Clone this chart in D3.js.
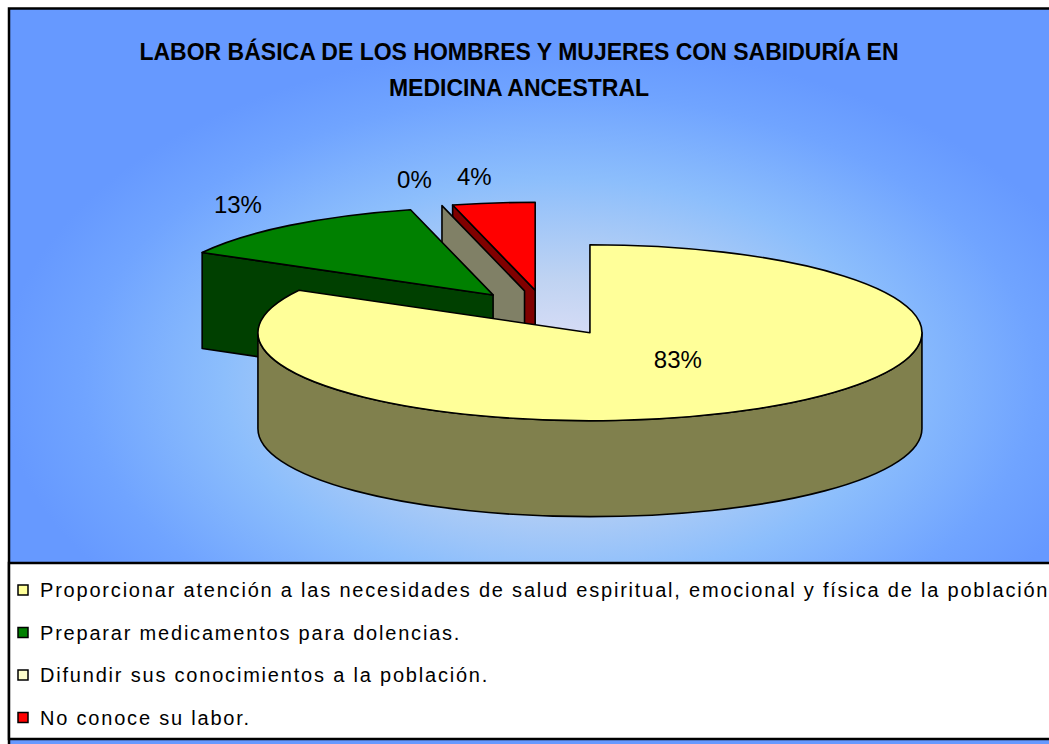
<!DOCTYPE html>
<html lang="es">
  <head>
    <meta charset="utf-8">
    <title>Labor básica</title>
    <script src="https://d3js.org/d3.v7.min.js"></script>
    <style>
      body { margin: 0; background: white; }
      text { font-family: Arial, "Liberation Sans", sans-serif; }
    </style>
  </head>
  <body>
    <script type="text/javascript">

      var w = 1049;
      var h = 744;

      // data
      var categories = ["Proporcionar atención a las necesidades de salud espiritual, emocional y física de la población",
                        "Preparar medicamentos para dolencias.",
                        "Difundir sus conocimientos a la población.",
                        "No conoce su labor."];
      var values = [83, 13, 0, 4];
      var labels = ["83%", "13%", "0%", "4%"];
      var colors = ["#FFFF99", "#008000", "#FFFFCC", "#FF0000"];
      var titleLines = ["LABOR BÁSICA DE LOS HOMBRES Y MUJERES CON SABIDURÍA EN",
                        "MEDICINA ANCESTRAL"];

      // pie geometry
      var cx = 546, cy = 313;
      var rx = 332, ry = 88, depth = 96;
      var explode = 0.26;

      var svg = d3.select("body")
          .append("svg")
          .attr("width", w)
          .attr("height", h);

      var defs = svg.append("defs");
      var grad = defs.append("radialGradient")
          .attr("id", "bg")
          .attr("gradientUnits", "userSpaceOnUse")
          .attr("cx", 560).attr("cy", 380).attr("r", 560)
          .attr("gradientTransform", "translate(560,380) scale(1,0.6) translate(-560,-380)");
      [[0, "#e8e3f8"], [0.3, "#bfd3f2"], [0.6, "#8cbefc"], [0.85, "#70a4ff"], [1, "#6699ff"]]
        .forEach(function(s) {
          grad.append("stop").attr("offset", s[0]).attr("stop-color", s[1]);
        });

      svg.append("rect")
          .attr("x", 0).attr("y", 0)
          .attr("width", w).attr("height", h)
          .attr("fill", "white");

      svg.append("rect")
          .attr("x", 9).attr("y", 8.5)
          .attr("width", 1100).attr("height", 800)
          .attr("fill", "url(#bg)")
          .attr("stroke", "black")
          .attr("stroke-width", 2.5);

      // title
      svg.append("g").selectAll("text")
          .data(titleLines)
          .enter().append("text")
          .attr("x", 519)
          .attr("y", function(d, i) { return 60 + i * 36 })
          .attr("text-anchor", "middle")
          .attr("font-weight", "bold")
          .attr("font-size", "23px")
          .text(function(d) { return d });

      // pie
      var pie = d3.pie().sort(null).startAngle(0).endAngle(2 * Math.PI);
      var arcs = pie(values);

      arcs.forEach(function(a, i) {
        var m = (a.startAngle + a.endAngle) / 2;
        a.ox = cx + explode * rx * Math.sin(m);
        a.oy = cy - explode * ry * Math.cos(m);
        a.mid = m;
        a.i = i;
      });

      function rim(a, t, dy) {
        return [a.ox + rx * Math.sin(t), a.oy - ry * Math.cos(t) + (dy || 0)];
      }

      function topPath(a) {
        var p0 = rim(a, a.startAngle), p1 = rim(a, a.endAngle);
        var large = (a.endAngle - a.startAngle) > Math.PI ? 1 : 0;
        return "M" + a.ox + "," + a.oy + "L" + p0 + "A" + rx + "," + ry + " 0 " + large + " 1 " + p1 + "Z";
      }

      function outerPath(a) {
        var s = Math.max(a.startAngle, Math.PI / 2);
        var e = Math.min(a.endAngle, 3 * Math.PI / 2);
        if (e <= s) return null;
        var p0 = rim(a, s), p1 = rim(a, e), q1 = rim(a, e, depth), q0 = rim(a, s, depth);
        return "M" + p0 + "A" + rx + "," + ry + " 0 0 1 " + p1 + "L" + q1 +
               "A" + rx + "," + ry + " 0 0 0 " + q0 + "Z";
      }

      function wallPath(a, t) {
        var p = rim(a, t), q = rim(a, t, depth);
        return "M" + a.ox + "," + a.oy + "L" + p + "L" + q + "L" + a.ox + "," + (a.oy + depth) + "Z";
      }

      // back to front
      var order = arcs.slice().sort(function(a, b) { return a.oy - b.oy });

      var g = svg.append("g")
          .attr("stroke", "black")
          .attr("stroke-width", 1.6)
          .attr("stroke-linejoin", "round");

      order.forEach(function(a) {
        var c = d3.rgb(colors[a.i]);
        var side = d3.rgb(c.r * 0.5, c.g * 0.5, c.b * 0.5).toString();
        if (Math.sin(a.startAngle) < -1e-6)
          g.append("path").attr("d", wallPath(a, a.startAngle)).attr("fill", side);
        if (Math.sin(a.endAngle) > 1e-6)
          g.append("path").attr("d", wallPath(a, a.endAngle)).attr("fill", side);
        var op = outerPath(a);
        if (op) g.append("path").attr("d", op).attr("fill", side);
        if (a.endAngle > a.startAngle)
          g.append("path").attr("d", topPath(a)).attr("fill", colors[a.i]);
      });

      // data labels: big slice inside, small ones outside
      svg.append("g").selectAll("text")
          .data(arcs)
          .enter().append("text")
          .attr("x", function(d) {
            if (d.data > 50) return d.ox + 0.52 * rx * Math.sin(d.mid);
            return d.ox + 1.2 * rx * Math.sin(d.mid) - 11;
          })
          .attr("y", function(d) {
            var f = d.data > 50 ? 0.36 : 1.3;
            return d.oy - f * ry * Math.cos(d.mid);
          })
          .attr("dy", "0.35em")
          .attr("text-anchor", "middle")
          .attr("font-size", "24px")
          .text(function(d) { return labels[d.i] });

      // legend
      var legend = svg.append("g");
      legend.append("rect")
          .attr("x", 9).attr("y", 563)
          .attr("width", 1100).attr("height", 176)
          .attr("fill", "white")
          .attr("stroke", "black")
          .attr("stroke-width", 2.5);

      var items = legend.selectAll("g.item")
          .data(categories)
          .enter().append("g")
          .attr("class", "item")
          .attr("transform", function(d, i) { return "translate(0," + (590 + i * 42.5) + ")" });

      items.append("rect")
          .attr("x", 18).attr("y", -5)
          .attr("width", 10).attr("height", 10)
          .attr("fill", function(d, i) { return colors[i] })
          .attr("stroke", "black")
          .attr("stroke-width", 1.5);

      items.append("text")
          .attr("x", 40)
          .attr("dy", "0.35em")
          .attr("font-size", "20px")
          .attr("letter-spacing", "1.8px")
          .text(function(d) { return d });

    </script>
  </body>
</html>
